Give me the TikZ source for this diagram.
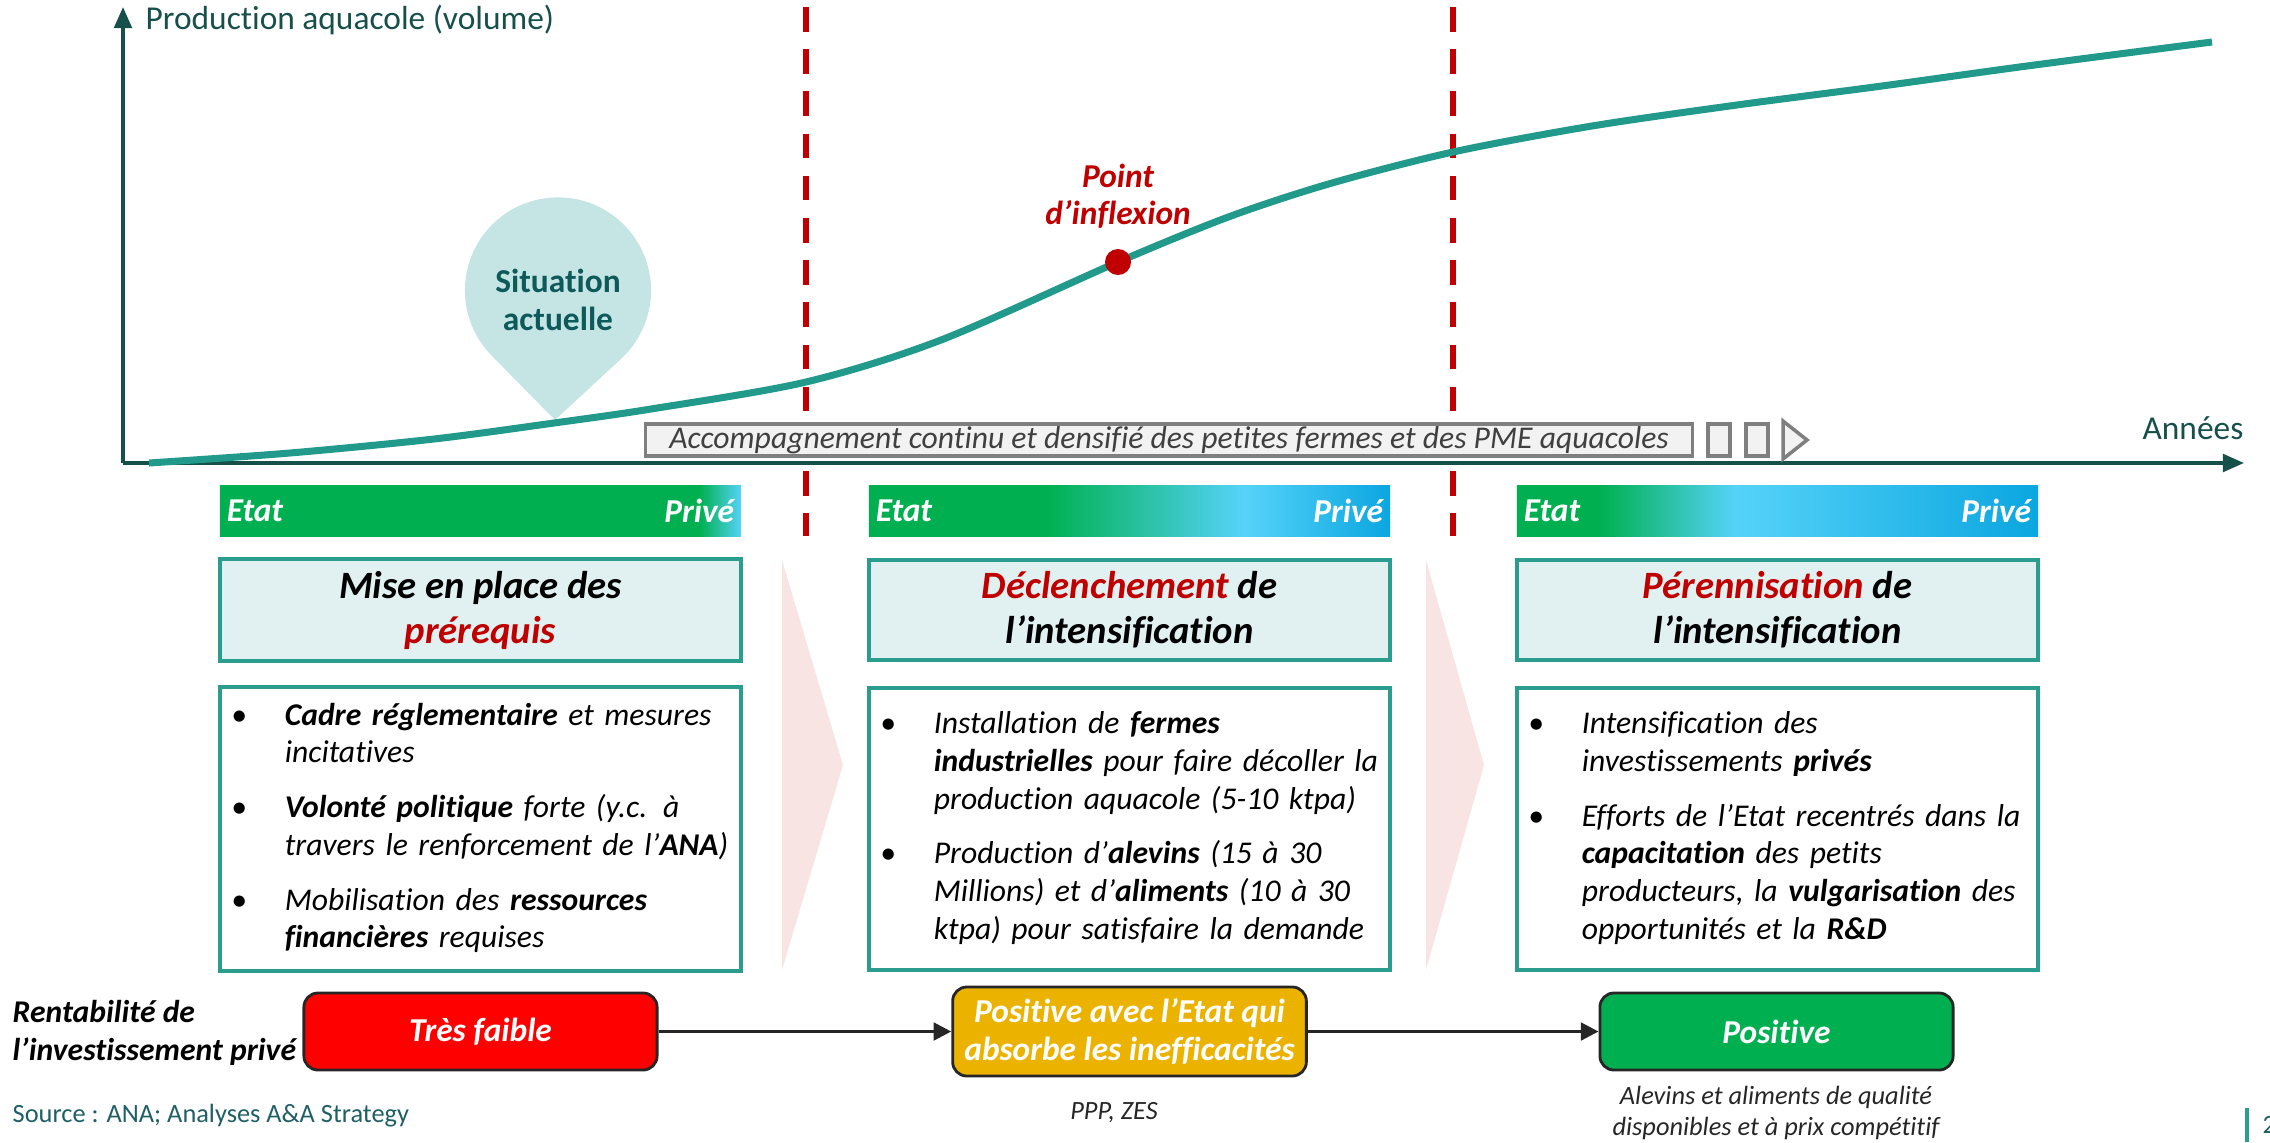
\documentclass[tikz,border=0pt]{standalone}
\usepackage{fontspec}
\setmainfont{Carlito}[Ligatures={TeX,NoCommon}]
\usepackage{tikz}
\usetikzlibrary{arrows.meta}
\usetikzlibrary{positioning}

\definecolor{axe}{RGB}{23,80,74}
\definecolor{courbe}{RGB}{34,154,139}
\definecolor{rougefonce}{RGB}{192,0,0}
\definecolor{bulle}{RGB}{197,228,228}
\definecolor{bulletxt}{RGB}{14,90,90}
\definecolor{fondtitre}{RGB}{225,240,240}
\definecolor{bord}{RGB}{42,157,143}
\definecolor{vertetat}{RGB}{0,176,80}
\definecolor{bleuclair}{RGB}{85,211,249}
\definecolor{bleuprive}{RGB}{11,166,224}
\definecolor{rose}{RGB}{249,228,228}
\definecolor{grisfond}{RGB}{242,242,242}
\definecolor{grisbord}{RGB}{127,127,127}
\definecolor{gristxt}{RGB}{64,64,64}
\definecolor{rouge}{RGB}{255,0,0}
\definecolor{jaune}{RGB}{235,179,0}
\definecolor{sombre}{RGB}{38,38,38}
\definecolor{sourcecol}{RGB}{31,95,102}

\pgfdeclarehorizontalshading{barun}{100bp}{color(0bp)=(vertetat); color(71bp)=(vertetat); color(75bp)=(bleuclair); color(100bp)=(bleuclair)}
\pgfdeclarehorizontalshading{bardeux}{100bp}{color(0bp)=(vertetat); color(42bp)=(vertetat); color(61bp)=(bleuclair); color(75bp)=(bleuprive); color(100bp)=(bleuprive)}
\pgfdeclarehorizontalshading{bartrois}{100bp}{color(0bp)=(vertetat); color(33bp)=(vertetat); color(46bp)=(bleuclair); color(75bp)=(bleuprive); color(100bp)=(bleuprive)}

\tikzset{axeligne/.style={draw=axe, line width=1pt, -{Triangle[length=6pt,width=5pt]}}}
\tikzset{axetxt/.style={text=axe, font=\fontsize{9.5}{11}\selectfont, inner sep=0pt}}
\tikzset{pointille/.style={draw=rougefonce, line width=1.6pt, dash pattern=on 7pt off 5pt}}
\tikzset{bulletxt/.style={text=bulletxt, align=center, font=\fontsize{9.5}{11}\selectfont\bfseries}}
\tikzset{point/.style={circle, fill=rougefonce, minimum size=0.26cm, inner sep=0pt}}
\tikzset{inflexiontxt/.style={text=rougefonce, align=center, font=\fontsize{9.5}{10.6}\selectfont\bfseries\itshape}}
\tikzset{accomp/.style={draw=grisbord, line width=1pt, fill=grisfond, minimum width=10.46cm, minimum height=0.32cm, inner sep=0pt, text=gristxt, font=\fontsize{9}{10}\selectfont\itshape}}
\tikzset{carre/.style={draw=grisbord, line width=1pt, fill=grisfond, minimum width=0.22cm, minimum height=0.32cm, inner sep=0pt}}
\tikzset{barre/.style={shade, minimum width=5.21cm, minimum height=0.5cm, inner sep=0pt}}
\tikzset{bartxt/.style={text=white, inner xsep=2pt, inner ysep=4pt, font=\fontsize{9.5}{11}\selectfont\bfseries\itshape}}
\tikzset{titre/.style={draw=bord, line width=1pt, fill=fondtitre, minimum width=5.21cm, minimum height=1cm, align=center, font=\fontsize{11}{12.8}\selectfont\bfseries\itshape}}
\tikzset{contenu/.style={draw=bord, line width=1pt, fill=white, minimum width=5.21cm, minimum height=2.82cm, text width=4.81cm, inner xsep=0.2cm, align=left, font=\fontsize{9}{10.7}\selectfont\itshape}}
\tikzset{rent/.style={draw=sombre, line width=0.8pt, rounded corners=4pt, minimum width=3.53cm, minimum height=0.77cm, text=white, align=center, font=\fontsize{9.5}{10.7}\selectfont\bfseries\itshape}}
\tikzset{fleche/.style={draw=sombre, line width=0.9pt, -{Triangle[length=5pt,width=5pt]}}}
\tikzset{rentlab/.style={align=left, inner sep=0pt, font=\fontsize{9}{11}\selectfont\bfseries\itshape}}
\tikzset{note/.style={text=sombre, align=center, font=\fontsize{7.5}{9}\selectfont\itshape}}
\tikzset{sourcetxt/.style={text=sourcecol, inner sep=0pt, font=\fontsize{7.5}{9}\selectfont}}
\newcommand\puce{\hspace*{-2.5pt}\textbullet}

\begin{document}
\begin{tikzpicture}[x=0.01cm,y=-0.01cm]
  \useasboundingbox (0,0) rectangle (2270,1142);
  \foreach \x/\fl in {782/843, 1426/1484} {
    \fill[rose] (\x,560) -- (\fl,765) -- (\x,970) -- cycle;
  }
  \foreach \x in {806, 1453} {
    \draw[pointille] (\x,7) -- (\x,536);
  }
  \coordinate (origine) at (123,463);
  \coordinate (yhaut) at (123,7);
  \coordinate (xfin) at (2244,463);
  \draw[axeligne] (origine) -- (yhaut);
  \draw[axeligne] (origine) -- (xfin);
  \node[axetxt, anchor=west] (production) at (145,20) {Production aquacole (volume)};
  \node[axetxt, anchor=east] (annees) at (2244,428) {Années};

  \fill[bulle] (555,420) -- (493,357) arc[start angle=225.7, end angle=-45.7, radius=0.93cm] -- cycle;
  \node[bulletxt] (situation) at (558,300) {Situation\\actuelle};

  \draw[courbe, line width=2pt] plot[smooth] coordinates {
    (149,463) (290,453) (434,439) (554,423) (651,409) (806,382) (941,340)
    (1118,262) (1231,216) (1332,183) (1453,152) (1592,126) (1737,105)
    (1882,86) (2027,66) (2212,42)};
  \node[point] (inflexion) at (1118,262) {};
  \node[inflexiontxt] (inflexlab) at (1118,196) {Point\\d’inflexion};

  \node[accomp] (accomp) at (1169,440) {Accompagnement continu et densifié des petites fermes et des PME aquacoles};
  \foreach \x/\n in {1719/1, 1757/2} {
    \node[carre] (carre\n) at (\x,440) {};
  }
  \filldraw[draw=grisbord, fill=grisfond, line width=1pt] (1783,421) -- (1807,440) -- (1783,459) -- cycle;

  \foreach \i/\x/\sh in {1/480.5/barun, 2/1129.5/bardeux, 3/1777.5/bartrois} {
    \node[barre, shading=\sh] (barre\i) at (\x,511) {};
    \node[bartxt, anchor=west] (etat\i) at (barre\i.west) {Etat};
    \node[bartxt, anchor=east] (prive\i) at (barre\i.east) {Privé};
  }

  \node[titre] (titre1) at (480.5,610) {Mise en place des\\\textcolor{rougefonce}{prérequis}};
  \node[titre] (titre2) at (1129.5,610) {\textcolor{rougefonce}{Déclenchement} de\\l’intensification};
  \node[titre] (titre3) at (1777.5,610) {\textcolor{rougefonce}{Pérennisation} de\\l’intensification};

  \node[contenu] (contenu1) at (480.5,829) {\begin{tabular}{@{}p{12.8pt}@{}l@{}}
    \puce & \textbf{Cadre réglementaire} et mesures\\
    & incitatives\\[4.9pt]
    \puce & \textbf{Volonté politique} forte (y.c. à\\
    & travers le renforcement de l’\textbf{ANA})\\[4.9pt]
    \puce & Mobilisation des \textbf{ressources}\\
    & \textbf{financières} requises
  \end{tabular}};
  \node[contenu] (contenu2) at (1129.5,829) {\begin{tabular}{@{}p{12.8pt}@{}l@{}}
    \puce & Installation de \textbf{fermes}\\
    & \textbf{industrielles} pour faire décoller la\\
    & production aquacole (5-10 ktpa)\\[4.9pt]
    \puce & Production d’\textbf{alevins} (15 à 30\\
    & Millions) et d’\textbf{aliments} (10 à 30\\
    & ktpa) pour satisfaire la demande
  \end{tabular}};
  \node[contenu] (contenu3) at (1777.5,829) {\begin{tabular}{@{}p{12.8pt}@{}l@{}}
    \puce & Intensification des\\
    & investissements \textbf{privés}\\[4.9pt]
    \puce & Efforts de l’Etat recentrés dans la\\
    & \textbf{capacitation} des petits\\
    & producteurs, la \textbf{vulgarisation} des\\
    & opportunités et la \textbf{R\&D}
  \end{tabular}};

  \node[rent, fill=rouge] (rent1) at (480.5,1031.5) {Très faible};
  \node[rent, fill=jaune] (rent2) at (1129.5,1031.5) {Positive avec l’Etat qui\\absorbe les inefficacités};
  \node[rent, fill=vertetat] (rent3) at (1776.5,1031.5) {Positive};
  \draw[fleche] (rent1) -- (rent2);
  \draw[fleche] (rent2) -- (rent3);
  \node[rentlab, anchor=west] (rentlab) at (12,1033) {Rentabilité de\\l’investissement privé};
  \node[note] (ppp) at (1114,1113) {PPP, ZES};
  \node[note] (alevins) at (1776,1113) {Alevins et aliments de qualité\\disponibles et à prix compétitif};
  \node[sourcetxt, anchor=west] (source) at (12,1116) {Source : ANA; Analyses A\&A Strategy};
  \draw[draw=bord, line width=1pt] (2247,1108) -- (2247,1142);
  \node[sourcetxt, anchor=west] (page) at (2262,1125) {2};
\end{tikzpicture}
\end{document}
